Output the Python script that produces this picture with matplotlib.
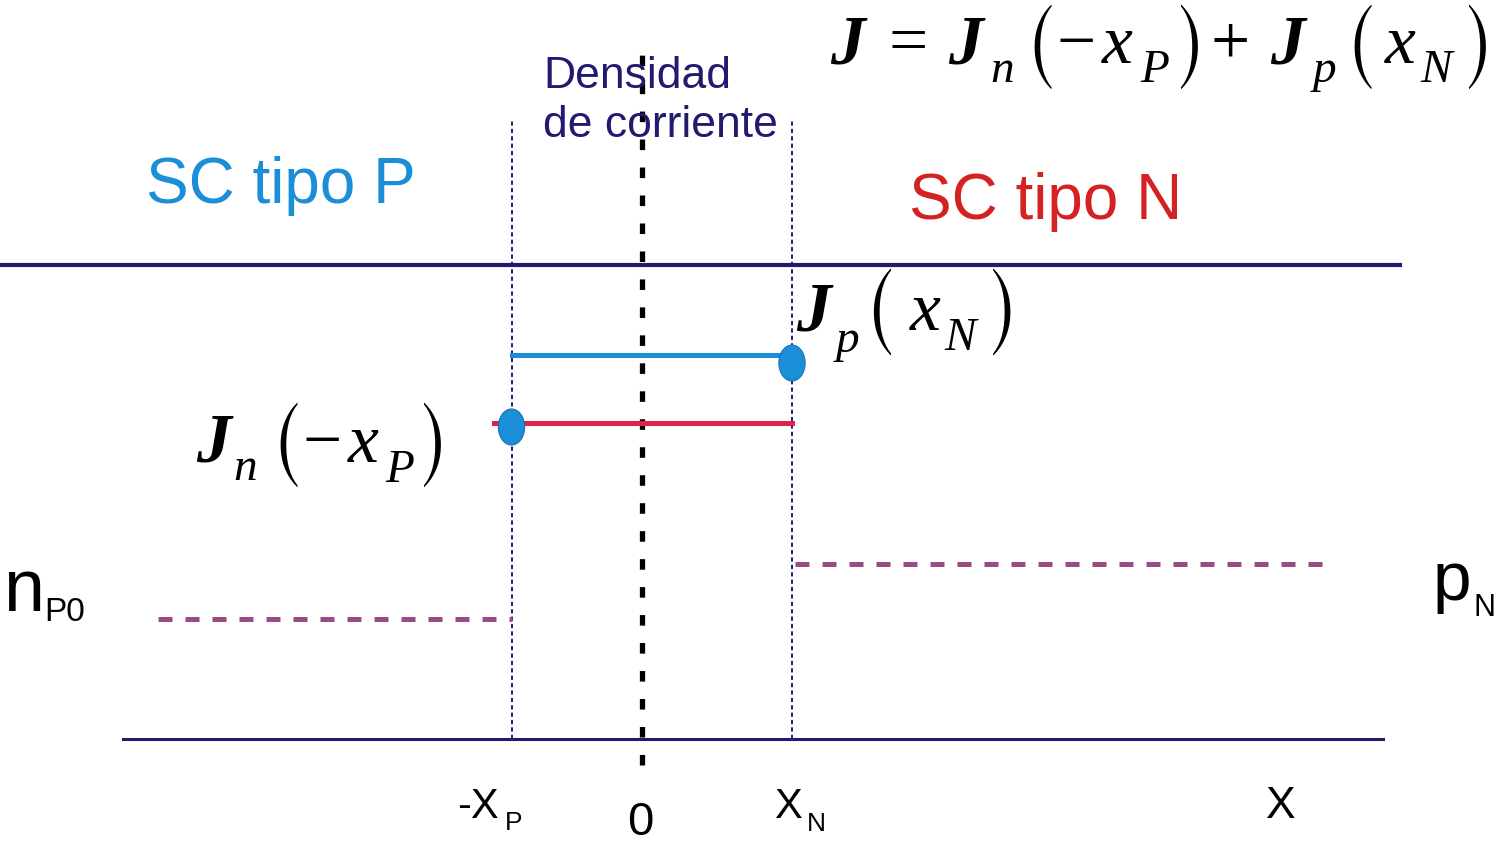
import os
import matplotlib
matplotlib.use("Agg")
import matplotlib.pyplot as plt
from matplotlib.patches import Ellipse
from matplotlib.font_manager import FontProperties

# diagram values (x in arbitrary length units, y in arbitrary density units)
x_p = -0.87          # -xP edge of the depletion region
x_n = 1.0            # xN edge
x_left, x_right = -3.46, 4.94   # extent of the x axis line
top_left, top_right = -4.28, 5.05
jp_level = 3.84      # Jp(xN)
jn_level = 3.16      # Jn(-xP)
jn_start = -0.99
top_level = 4.74
np0_level = 1.2
np0_start = -3.23
pn_level = 1.75
pn_end = 4.57
guide_top = 6.19
center_top, center_bottom = 6.89, -0.26

W, H = 1499, 843
NAVY = "#221a6e"
BLUE = "#1a8ed6"
RED = "#dc2448"
PURPLE = "#9b4a84"

# tall parentheses like the equation editor ones
STIX_BIG = FontProperties(fname=os.path.join(matplotlib.get_data_path(),
                                             "fonts", "ttf", "STIXSizOneSymReg.ttf"))


def px(x, y):
    return x / W, 1 - y / H


def put(fig, x, y, s, size, color="black", family="Liberation Sans",
        style="normal", weight="normal"):
    fig.text(*px(x, y), s, fontsize=size, color=color, family=family,
             style=style, weight=weight, va="baseline", ha="left")


def formula(fig, pieces):
    # pieces: (text, x, baseline, size, italic)
    for s, x, y, size, it in pieces:
        put(fig, x, y, s, size, family="Liberation Serif",
            style="italic" if it else "normal",
            weight="bold" if s == "J" else "normal")


def paren(fig, ch, xc, y0, y1):
    t = fig.text(*px(xc, (y0 + y1) / 2), ch, fontproperties=STIX_BIG,
                 fontsize=40, ha="center", va="center")
    r = fig.canvas.get_renderer()
    h = t.get_window_extent(r).height
    t.set_fontsize(40 * (y1 - y0) / h)


fig = plt.figure(figsize=(W / 100, H / 100), dpi=100)
ax = fig.add_axes([0, 0, 1, 1])
ax.set_xlim(-642 / 150, (W - 642) / 150)
ax.set_ylim((739 - H) / 100, 739 / 100)
ax.axis("off")

# frame lines
ax.plot([top_left, top_right], [top_level, top_level], color=NAVY, lw=3.0)
ax.plot([x_left, x_right], [0, 0], color=NAVY, lw=2.2)

# depletion edges
for xv in (x_p, x_n):
    ax.plot([xv, xv], [0, guide_top], color=NAVY, lw=1.4,
            dashes=(2.2, 1.6))

# junction
ax.plot([0, 0], [center_bottom, center_top], color="black", lw=3.8,
        dashes=(2.0, 3.3), solid_capstyle="butt", dash_capstyle="butt")

# current densities
ax.plot([x_p, x_n], [jp_level, jp_level], color=BLUE, lw=3.6)
ax.plot([jn_start, x_n], [jn_level, jn_level], color=RED, lw=3.6)
ax.add_patch(Ellipse((x_n, jp_level - 0.08), 0.175, 0.36, fc=BLUE,
                     ec="#1570b8", lw=0.8, zorder=5))
ax.add_patch(Ellipse((x_p, jn_level - 0.04), 0.175, 0.36, fc=BLUE,
                     ec="#1570b8", lw=0.8, zorder=5))

# minority carriers
ax.plot([np0_start, x_p], [np0_level, np0_level], color=PURPLE,
        lw=3.6, dashes=(2.8, 2.6))
ax.plot([x_n + 0.02, pn_end], [pn_level, pn_level], color=PURPLE,
        lw=3.6, dashes=(2.8, 2.6))

# labels
put(fig, 543, 88, "Densidad", 32, NAVY)
put(fig, 543, 137, "de corriente", 32, NAVY)
put(fig, 146, 203, "SC tipo P", 46, BLUE)
put(fig, 909, 219, "SC tipo N", 46, "#d42222")

put(fig, 3, 611, "n", 53)
put(fig, 44, 621, "P0", 24)
put(fig, 1433, 600, "p", 50)
put(fig, 1473, 616, "N", 22)

put(fig, 457, 818, "-X", 30)
put(fig, 505, 830, "P", 19)
put(fig, 627, 835, "0", 34)
put(fig, 774, 818, "X", 30)
put(fig, 807, 831, "N", 19)
put(fig, 1266, 818, "X", 32)

formula(fig, [
    ("J", 830, 63, 50, True),
    ("=", 888, 63, 50, False),
    ("J", 948, 63, 50, True),
    ("n", 990, 82, 34, True),
    ("\u2212", 1056, 63, 50, False),
    ("x", 1102, 63, 50, True),
    ("P", 1140, 82, 34, True),
    ("+", 1211, 63, 50, False),
    ("J", 1270, 63, 50, True),
    ("p", 1313, 82, 34, True),
    ("x", 1385, 63, 50, True),
    ("N", 1420, 82, 34, True),
])
paren(fig, "(", 1041, 4, 90)
paren(fig, ")", 1191, 4, 90)
paren(fig, "(", 1361, 4, 90)
paren(fig, ")", 1479, 4, 90)

formula(fig, [
    ("J", 796, 330, 50, True),
    ("p", 836, 352, 34, True),
    ("x", 910, 330, 50, True),
    ("N", 944, 350, 34, True),
])
paren(fig, "(", 880, 268, 356)
paren(fig, ")", 1004, 268, 356)

formula(fig, [
    ("J", 196, 462, 50, True),
    ("n", 233, 480, 34, True),
    ("\u2212", 302, 462, 50, False),
    ("x", 348, 462, 50, True),
    ("P", 385, 482, 34, True),
])
paren(fig, "(", 287, 402, 488)
paren(fig, ")", 434, 402, 488)

fig.savefig("out.png", dpi=100)
